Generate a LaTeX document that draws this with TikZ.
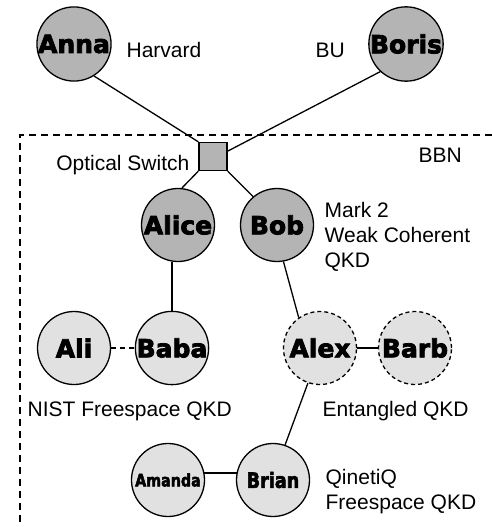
\documentclass[tikz,border=0pt]{standalone}
\usepackage{fontspec}
\setmainfont{Liberation Sans}
\newfontfamily\heavyfont{DejaVu Sans}[BoldFeatures={FakeBold=3}]
\usetikzlibrary{positioning}
\definecolor{linkgray}{HTML}{B4B4B4}
\definecolor{farmgray}{HTML}{E1E1E1}
\newcommand{\narrowname}[2]{\scalebox{0.84}[1]{\fontsize{#1}{#1}\selectfont\bfseries #2}}

\begin{document}
\begin{tikzpicture}[x=1pt, y=-1pt, line width=1.3pt,
    party/.style={circle, draw, inner sep=0pt, minimum size=73pt,
      font=\heavyfont\bfseries\fontsize{25}{25}\selectfont},
    core/.style={party, fill=linkgray},
    edge/.style={party, fill=farmgray},
    trial/.style={edge, dash pattern=on 4pt off 3pt},
    lbl/.style={inner sep=0pt, font=\fontsize{21}{25}\selectfont, align=left}]
  \useasboundingbox (0,0) rectangle (492,527);
  % BBN site boundary
  \draw[dash pattern=on 7pt off 5pt] (492,135) -- (20,135) -- (20,527);

  % outside sites and the switch
  \node[core] (Anna) at (74,44) {Anna};
  \node[core] (Boris) at (406,44) {Boris};
  \node[draw, fill=linkgray, minimum size=28pt, inner sep=0pt] (sw) at (213,156.5) {};

  % BBN nodes
  \node[core] (Alice) at (178,225) {Alice};
  \node[core] (Bob) at (277,225) {Bob};
  \node[edge] (Ali) at (74,348) {Ali};
  \node[edge] (Baba) at (172,348) {Baba};
  \node[trial] (Alex) at (320,348) {Alex};
  \node[trial] (Barb) at (415,348) {Barb};
  \node[edge] (Amanda) at (168,480) {\narrowname{17}{Amanda}};
  \node[edge] (Brian) at (273,480) {\narrowname{21}{Brian}};

  % links
  \draw (Anna.-58) -- (sw.north west);
  \draw (Boris.227) -- (sw.20);
  \draw (sw.south west) -- (Alice.84);
  \draw (sw.south east) -- (Bob.130);
  \draw (Alice.south -| Baba) -- (Baba);
  \draw[dash pattern=on 5pt off 4pt] (Ali) -- (Baba);
  \draw (Alex) -- (Barb);
  \draw (Bob.-80) -- (Alex.125);
  \draw (Alex.-109) -- (Brian.71);
  \draw (Amanda.11) -- (Brian.169);

  % site and system labels
  \node[lbl, anchor=base west] (harvard) at (126,57) {Harvard};
  \node[lbl, anchor=base west] (bu) at (315,57) {BU};
  \node[lbl, anchor=base east] (swlabel) at (190,170) {Optical Switch};
  \node[lbl, anchor=base west] (bbn) at (418,162) {BBN};
  \node[lbl, anchor=west] (mark) at (324,237) {Mark 2\\Weak Coherent\\QKD};
  \node[lbl, anchor=base west] (nist) at (27,416) {NIST Freespace QKD};
  \node[lbl, anchor=base west] (ent) at (322,416) {Entangled QKD};
  \node[lbl, anchor=west] (qinetiq) at (325,492) {QinetiQ\\Freespace QKD};
\end{tikzpicture}
\end{document}
